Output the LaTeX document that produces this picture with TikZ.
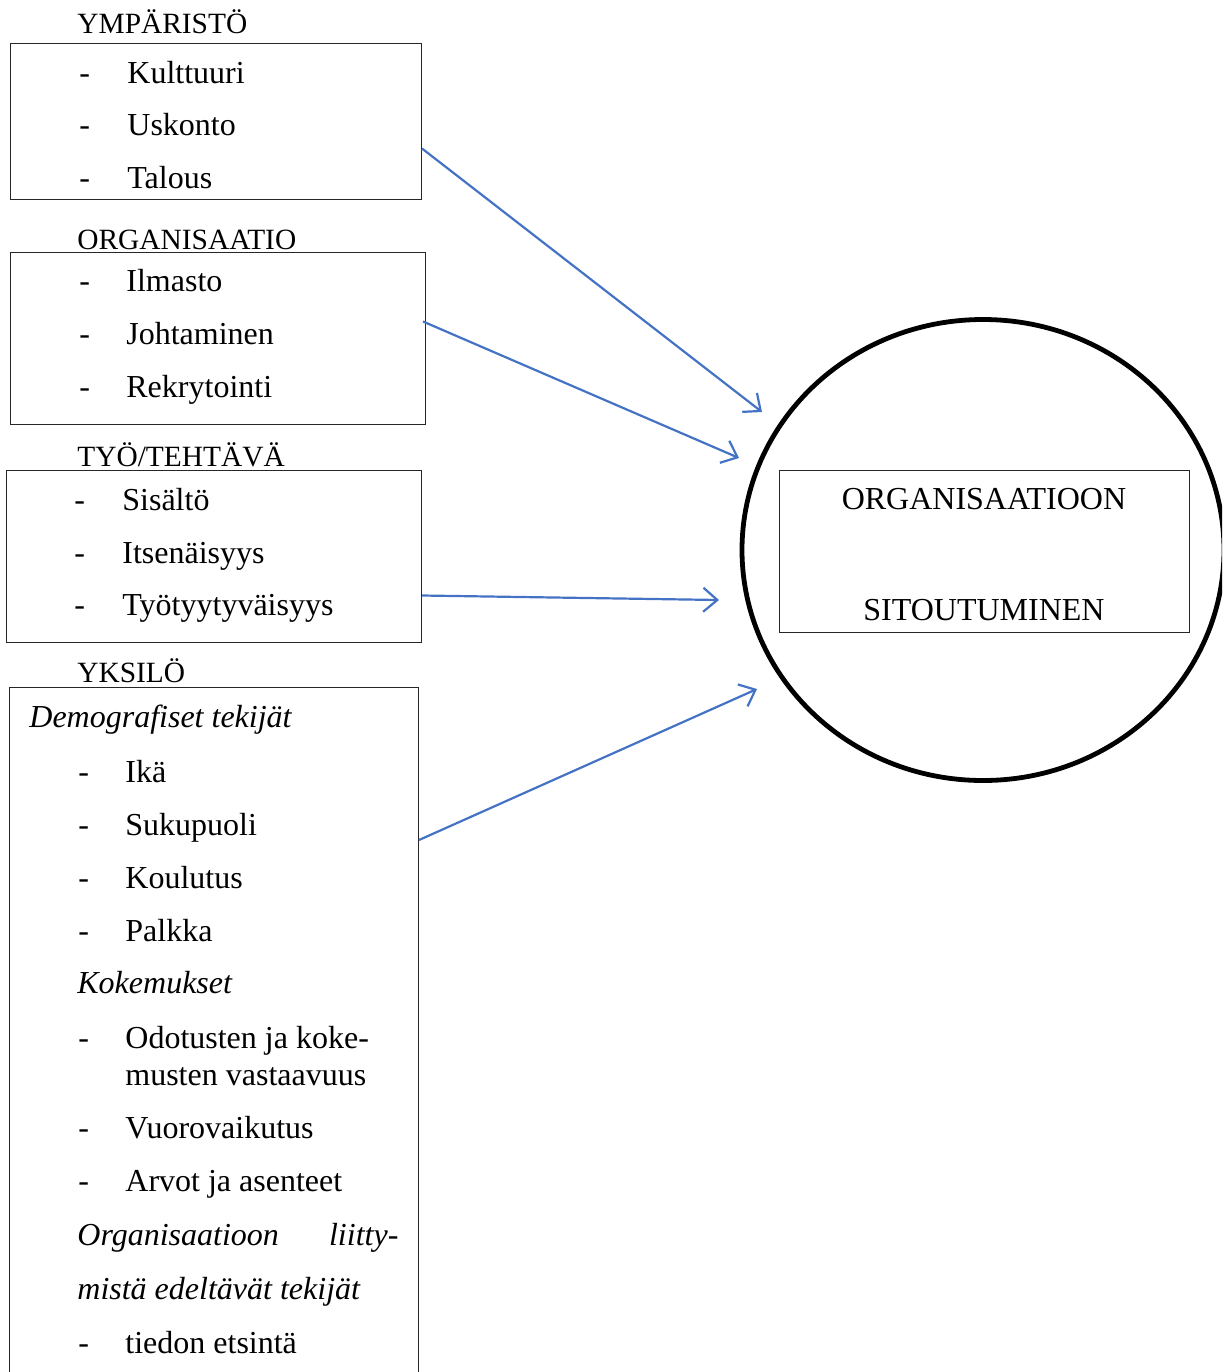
\documentclass[tikz,border=0pt]{standalone}
\usepackage{fontspec}
\setmainfont{Liberation Serif}
\usetikzlibrary{arrows.meta,positioning,shapes.geometric,calc}
\definecolor{linkblue}{RGB}{68,114,196}

\begin{document}
\begin{tikzpicture}[
    x=0.5pt, y=-0.5pt,
    >={Straight Barb[length=7pt,width=12pt]},
    box/.style={draw=black!85, line width=0.5pt, inner sep=0pt,
                anchor=north west},
    txt/.style={anchor=base west, inner sep=0pt,
                font=\fontsize{16}{19}\selectfont},
    head/.style={txt, font=\fontsize{14.7}{17}\selectfont},
    emph/.style={txt, font=\fontsize{16}{19}\selectfont\itshape},
    mid/.style={txt, anchor=base},
    link/.style={->, linkblue, line width=1.1pt},
  ]

  \useasboundingbox (0,0) rectangle (1222,1372);
  \clip (0,0) rectangle (1222,1372);

  % ── YMPÄRISTÖ ──
  \node[head] (ymphead) at (77,33) {YMPÄRISTÖ};
  \node[box, minimum width=205.5pt, minimum height=78pt] (ymp) at (10,43) {};
  \node[txt] (d11) at (79,83) {-};
  \node[txt] (kult) at (127,83) {Kulttuuri};
  \node[txt] (d12) at (79,135) {-};
  \node[txt] (usk) at (127,135) {Uskonto};
  \node[txt] (d13) at (79,188) {-};
  \node[txt] (tal) at (127,188) {Talous};

  % ── ORGANISAATIO ──
  \node[head] (orghead) at (77,249) {ORGANISAATIO};
  \node[box, minimum width=207.5pt, minimum height=86pt] (org) at (10,252) {};
  \node[txt] (d21) at (79,291) {-};
  \node[txt] (ilm) at (126,291) {Ilmasto};
  \node[txt] (d22) at (79,344) {-};
  \node[txt] (joh) at (126,344) {Johtaminen};
  \node[txt] (d23) at (79,397) {-};
  \node[txt] (rek) at (126,397) {Rekrytointi};

  % ── TYÖ/TEHTÄVÄ ──
  \node[head] (tyohead) at (77,466) {TYÖ/TEHTÄVÄ};
  \node[box, minimum width=207.5pt, minimum height=86pt] (tyo) at (6,470) {};
  \node[txt] (d31) at (74,510) {-};
  \node[txt] (sis) at (122,510) {Sisältö};
  \node[txt] (d32) at (74,563) {-};
  \node[txt] (its) at (122,563) {Itsenäisyys};
  \node[txt] (d33) at (74,615) {-};
  \node[txt] (tyyt) at (122,615) {Työtyytyväisyys};

  % ── YKSILÖ (runs past the lower edge) ──
  \node[head] (ykshead) at (77,682) {YKSILÖ};
  \node[box, minimum width=204.5pt, minimum height=360pt] (yks) at (9,687) {};
  \node[emph] (demo) at (29,727) {Demografiset tekijät};
  \node[txt] (d41) at (78,782) {-};
  \node[txt] (ika) at (125,782) {Ikä};
  \node[txt] (d42) at (78,835) {-};
  \node[txt] (suk) at (125,835) {Sukupuoli};
  \node[txt] (d43) at (78,888) {-};
  \node[txt] (koul) at (125,888) {Koulutus};
  \node[txt] (d44) at (78,941) {-};
  \node[txt] (palk) at (125,941) {Palkka};
  \node[emph] (kok) at (77,993) {Kokemukset};
  \node[txt] (d45) at (78,1048) {-};
  \node[txt] (odo) at (125,1048) {Odotusten ja koke-};
  \node[txt] (odo2) at (125,1085) {musten vastaavuus};
  \node[txt] (d46) at (78,1138) {-};
  \node[txt] (vuo) at (125,1138) {Vuorovaikutus};
  \node[txt] (d47) at (78,1191) {-};
  \node[txt] (arv) at (125,1191) {Arvot ja asenteet};
  \node[emph] (liit) at (77,1245)
    {\hbox to 160.5pt{Organisaatioon\hfill liitty-}};
  \node[emph] (liit2) at (77,1299) {mistä edeltävät tekijät};
  \node[txt] (d48) at (78,1353) {-};
  \node[txt] (tied) at (125,1353) {tiedon etsintä};

  % ── Target: circle with inner box ──
  \node[draw, ellipse, line width=2.4pt, inner sep=0pt,
        minimum width=241pt, minimum height=230.5pt] (target) at (983,550) {};
  \node[box, minimum width=205pt, minimum height=81pt] (sit) at (779,470) {};
  \node[mid] (sit1) at (984,509) {ORGANISAATIOON};
  \node[mid] (sit2) at (984,620) {SITOUTUMINEN};

  % ── Arrow ends (short of the circle) ──
  \coordinate (in1) at (762,412);
  \coordinate (in2) at (739,458);
  \coordinate (in3) at (719,600);
  \coordinate (in4) at (757,689);

  % ── Arrows ──
  \draw[link] ($(ymp.east)+(0,27)$) -- (in1);
  \draw[link] ($(org.east)+(-3,-17)$) -- (in2);
  \draw[link] ($(tyo.east)+(0,39)$) -- (in3);
  \draw[link] ($(yks.north east)+(0,153)$) -- (in4);

\end{tikzpicture}
\end{document}
